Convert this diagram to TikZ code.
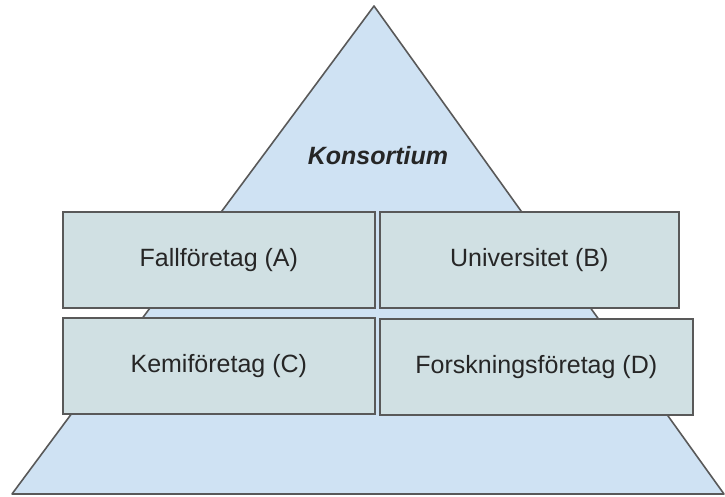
\documentclass[tikz,border=0pt]{standalone}
\usepackage{fontspec}
\setmainfont{Liberation Sans}
\definecolor{trifill}{HTML}{CFE2F3}
\definecolor{boxfill}{HTML}{D0E0E3}
\definecolor{edge}{HTML}{595959}
\begin{document}
\begin{tikzpicture}[x=1pt,y=1pt,
  tri/.style={draw=edge, fill=trifill, line width=1.6pt, line join=round},
  box/.style={draw=edge, fill=boxfill, line width=1.6pt, anchor=north west, inner sep=0pt,
    font=\fontsize{25}{30}\selectfont, text=black!85},
  lbl/.style={font=\fontsize{25}{30}\selectfont\bfseries\itshape, text=black!85}]
\useasboundingbox (0,0) rectangle (725,-497);
\draw[tri] (12,-494) -- (374,-6) -- (724,-494) -- cycle;
\node[lbl] (K) at (378,-156) {Konsortium};
\node[box, minimum width=312pt, minimum height=96pt] (A) at (62,-211) {Fallföretag (A)};
\node[box, minimum width=299pt, minimum height=96pt] (B) at (379,-211) {Universitet (B)};
\node[box, minimum width=312pt, minimum height=96pt] (C) at (62,-317) {Kemiföretag (C)};
\node[box, minimum width=313pt, minimum height=96pt] (D) at (379,-318) {Forskningsföretag (D)};
\end{tikzpicture}
\end{document}
